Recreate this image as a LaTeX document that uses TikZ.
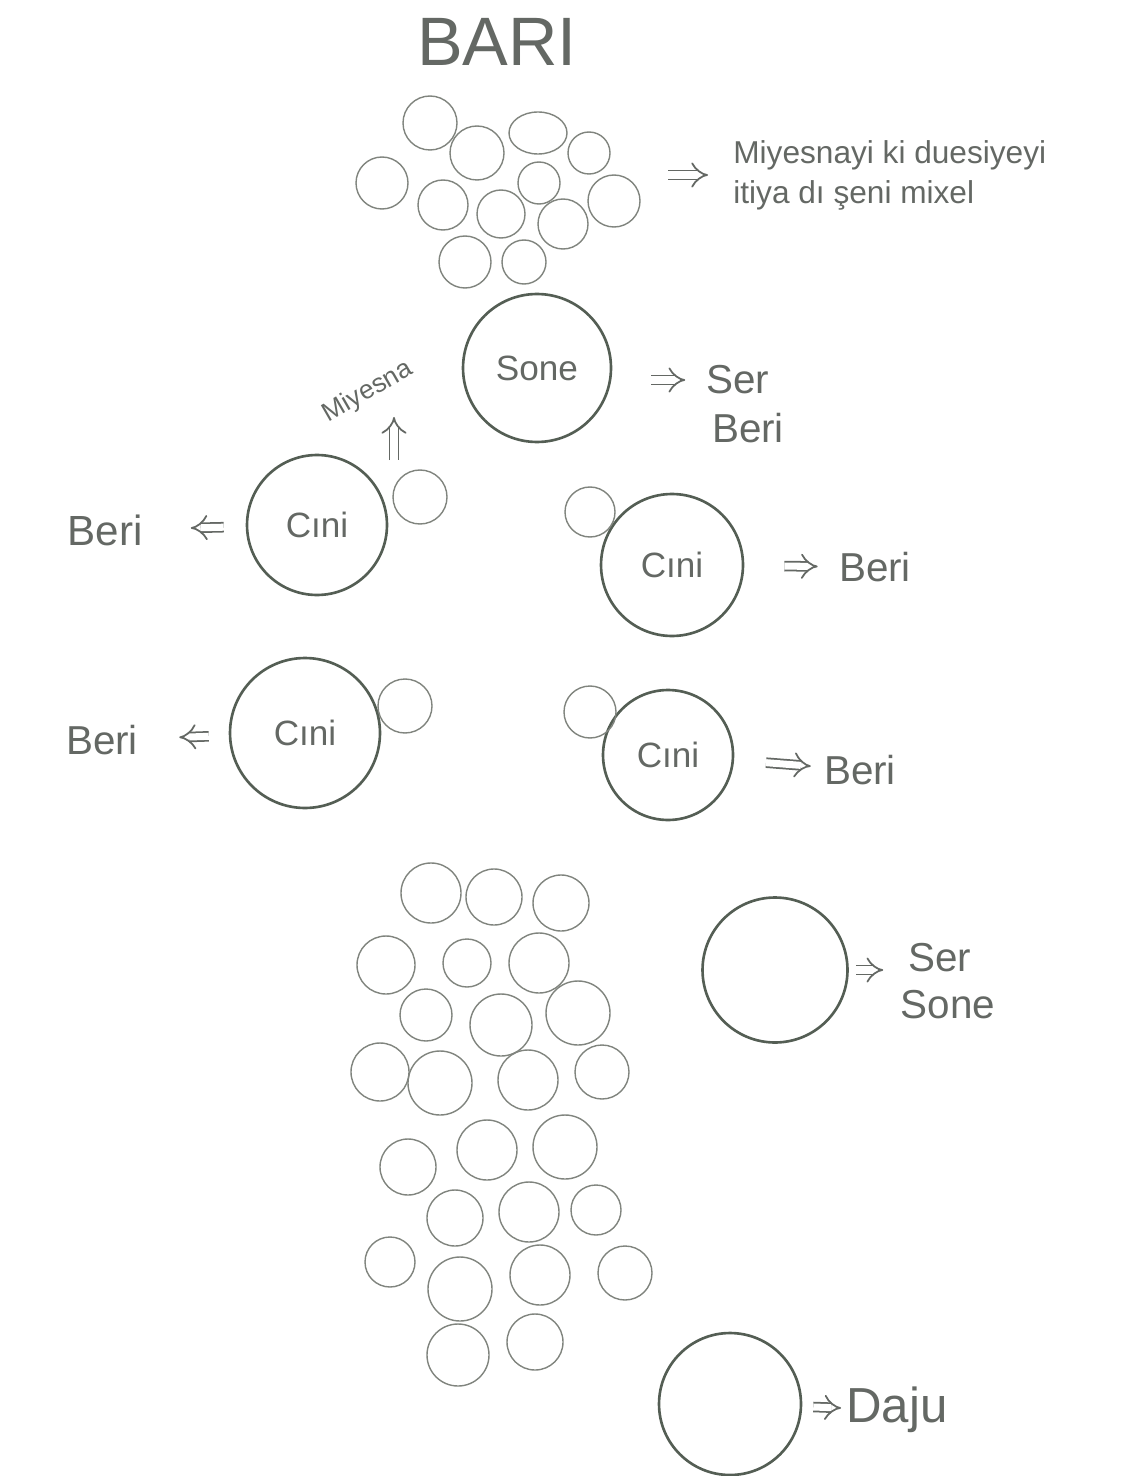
\documentclass[tikz,border=0pt]{standalone}
\usepackage{fontspec}
\setmainfont{Liberation Sans}
\usetikzlibrary{arrows.meta,positioning}

\definecolor{pencil}{RGB}{128,132,126}
\definecolor{lead}{RGB}{84,94,84}
\definecolor{ink}{RGB}{100,104,100}

\tikzset{
  cell/.style={draw=pencil, line width=0.8pt},
  bigcell/.style={circle, draw=lead, line width=1.5pt, inner sep=0pt, text=ink,
    font=\fontsize{20}{20}\selectfont},
  word/.style={text=ink, inner sep=0pt, font=\fontsize{23}{23}\selectfont},
  impl/.style={draw=ink, double, double distance=4pt, line width=1pt, -{Implies[scale=1.3]}},
}

\begin{document}
\begin{tikzpicture}[x=0.02cm, y=-0.02cm]
    \useasboundingbox (0,0) rectangle (1129,1476);

    % Title
    \node[word, font=\fontsize{39}{39}\selectfont] (bari) at (497,42) {BARI};

    % Top group of small cells
    \foreach \x/\y/\r in {430/123/27, 477/153/27, 589/153/21, 382/183/26, 539/183/21,
        443/205/25, 501/214/24, 563/224/25, 614/201/26, 465/262/26, 524/262/22}
        \draw[cell] (\x,\y) circle (\r);
    \draw[cell] (538,133) ellipse (29 and 21);

    \coordinate (topset) at (668,175);
    \node[word, align=left, anchor=west, font=\fontsize{18}{22.7}\selectfont] (miyes) at (733,175)
        {Miyesnayi ki duesiyeyi\\itiya dı şeni mixel};
    \draw[impl, shorten >=0.5cm] (topset) -- (miyes);

    % Sone
    \node[bigcell, minimum size=2.96cm] (sone) at (537,368) {Sone};
    \node[word] (ser1) at (738,380) {Ser};
    \node[word] (beri1) at (748,428) {Beri};
    \draw[impl, shorten <=0.78cm, shorten >=0.42cm] (sone.east |- ser1) -- (ser1);

    % Cini, upper left
    \node[bigcell, minimum size=2.8cm] (cinia) at (317,525) {Cıni};
    \draw[cell] (420,497) circle (27);
    \node[word, font=\fontsize{24}{24}\selectfont] (beria) at (105,530) {Beri};
    \draw[impl, shorten <=0.44cm, shorten >=0.96cm] (cinia) -- (beria);

    \node[word, rotate=30, font=\fontsize{15}{15}\selectfont] (miyesna) at (368,392) {Miyesna};
    \coordinate (mfoot) at (394,460);
    \draw[impl, shorten >=0.5cm] (mfoot) -- (mfoot |- miyesna);

    % Cini, upper right
    \node[bigcell, minimum size=2.84cm] (cinib) at (672,565) {Cıni};
    \draw[cell] (590,512) circle (25);
    \node[word] (berib) at (875,567) {Beri};
    \draw[impl, shorten <=0.8cm, shorten >=0.42cm] (cinib) -- (berib);

    % Cini, lower left
    \node[bigcell, minimum size=3cm] (cinic) at (305,733) {Cıni};
    \draw[cell] (405,706) circle (27);
    \node[word] (beric) at (102,740) {Beri};
    \draw[impl, shorten <=0.4cm, shorten >=0.82cm] (cinic) -- (beric);

    % Cini, lower right
    \node[bigcell, minimum size=2.6cm] (cinid) at (668,755) {Cıni};
    \draw[cell] (590,712) circle (26);
    \node[word] (berid) at (860,770) {Beri};
    \draw[impl, shorten <=0.64cm, shorten >=0.26cm] (cinid) -- (berid);

    % Bottom group of small cells
    \foreach \x/\y/\r in {431/893/30, 494/897/28, 561/903/28,
        386/965/29, 467/963/24, 539/963/30,
        426/1015/26, 501/1025/31, 578/1013/32,
        380/1072/29, 440/1083/32, 528/1080/30, 602/1072/27,
        408/1167/28, 487/1150/30, 565/1147/32,
        455/1218/28, 529/1212/30, 596/1210/25,
        390/1262/25, 460/1289/32, 540/1275/30, 625/1273/27,
        458/1355/31, 535/1342/28}
        \draw[cell] (\x,\y) circle (\r);

    % Ser Sone
    \node[bigcell, minimum size=2.9cm] (sersone) at (775,970) {};
    \node[word] (ser2) at (940,958) {Ser};
    \node[word] (sone2) at (948,1005) {Sone};
    \draw[impl, shorten <=0.14cm, shorten >=0.5cm] (sersone.east) -- (sersone.east -| ser2.west);

    % Daju
    \node[bigcell, minimum size=2.84cm] (dajucell) at (730,1404) {};
    \node[word, font=\fontsize{28}{28}\selectfont] (daju) at (897,1410) {Daju};
    \draw[impl, shorten <=0.22cm, shorten >=0.1cm] (dajucell) -- (daju);
\end{tikzpicture}
\end{document}
